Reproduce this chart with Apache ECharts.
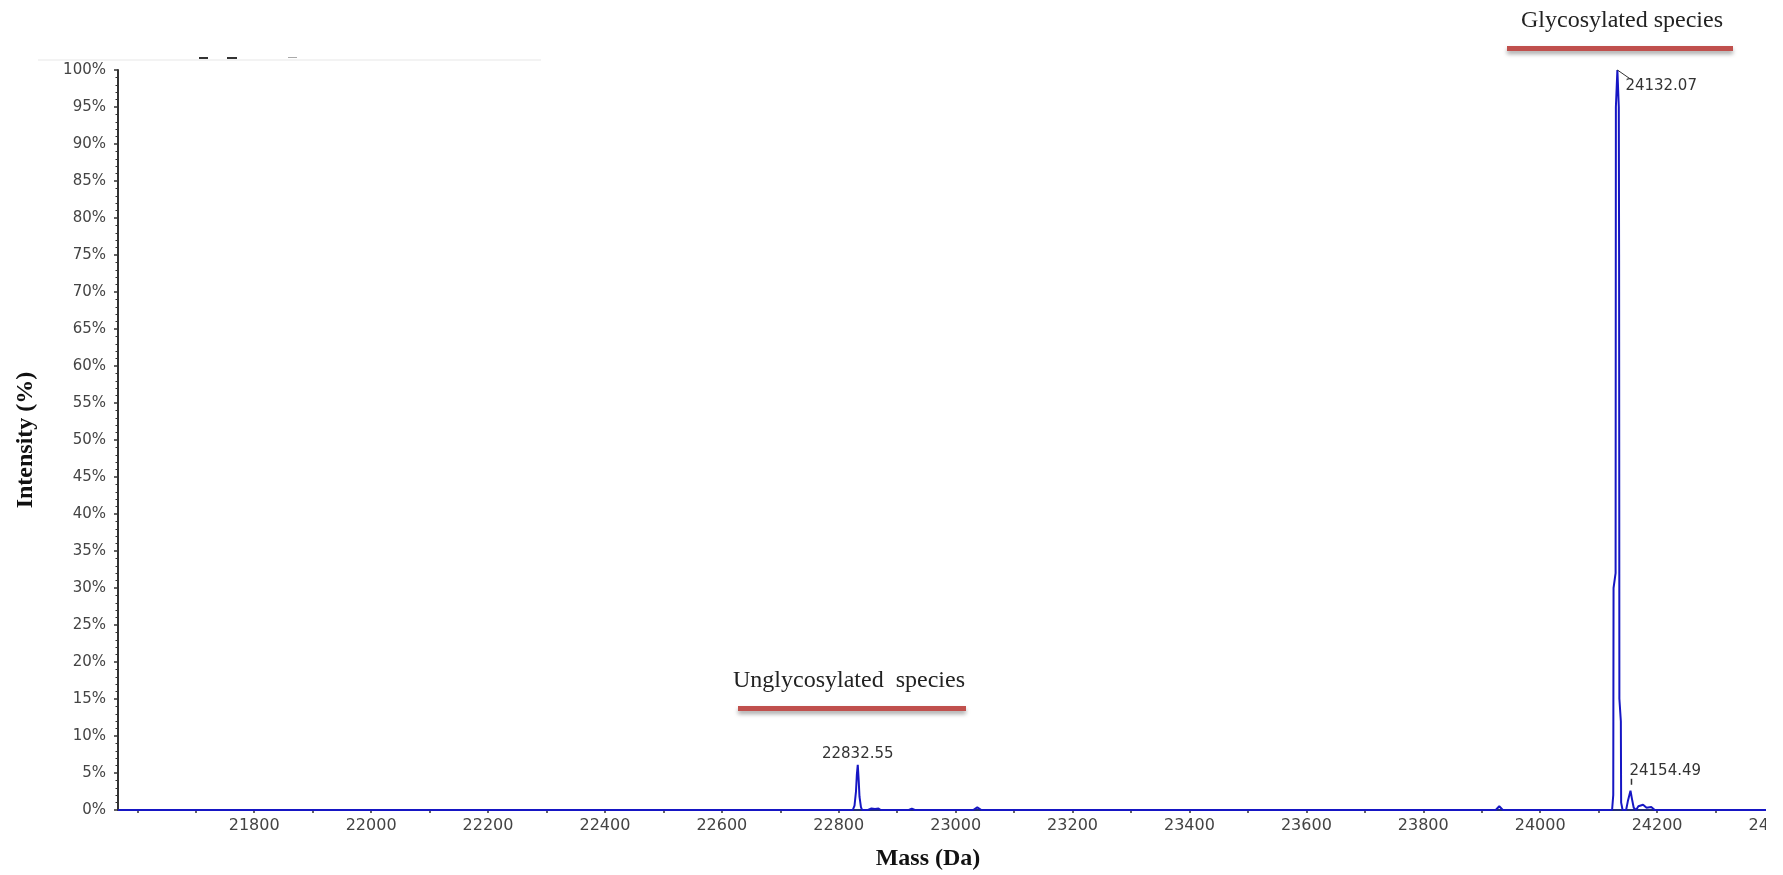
<!DOCTYPE html>
<html>
<head>
<meta charset="utf-8">
<script src="https://cdn.jsdelivr.net/npm/echarts@6/dist/echarts.min.js"></script>
<style>
html,body{margin:0;padding:0;background:#fff;}
#c{width:1783px;height:875px;}
</style>
</head>
<body>
<div id="c"></div>
<script>
// ---- data ----
const massDa = [
  21567, 22788, 22790, 22792, 22824, 22827, 22829.5, 22831, 22832.55, 22834, 22835.5, 22838, 22840,
  22850, 22856, 22862, 22868, 22872, 22920, 22925, 22930, 23030, 23037, 23044,
  23924, 23930, 23936,
  24123, 24125, 24125.5, 24129, 24129.5, 24132.07, 24134.5, 24135, 24135.5, 24138, 24138.5, 24141,
  24147, 24150, 24154.49, 24157, 24160, 24164, 24168, 24176, 24182, 24190, 24196, 24400
];
const intensityPct = [
  0, 0, 0.15, 0, 0, 0.6, 2.5, 4.8, 6.1, 4.2, 1.8, 0.4, 0,
  0, 0.2, 0.15, 0.2, 0, 0, 0.2, 0, 0, 0.35, 0,
  0, 0.5, 0,
  0, 2, 30, 32, 95, 100, 95, 75, 15, 12, 1, 0,
  0, 1.2, 2.6, 1.5, 0.3, 0, 0.5, 0.7, 0.3, 0.4, 0, 0
];
const peakMasses = [22832.55, 24132.07, 24154.49];
const peakIntensities = [6.1, 100, 2.6];
const xTickValues = [21600, 21700, 21800, 21900, 22000, 22100, 22200, 22300, 22400, 22500, 22600, 22700,
  22800, 22900, 23000, 23100, 23200, 23300, 23400, 23500, 23600, 23700, 23800, 23900, 24000, 24100,
  24200, 24300, 24400];
const xLabelValues = [21800, 22000, 22200, 22400, 22600, 22800, 23000, 23200, 23400, 23600, 23800,
  24000, 24200, 24400];
const annotationTexts = ['Unglycosylated  species', 'Glycosylated species'];
const xAxisTitle = 'Mass (Da)';
const yAxisTitle = 'Intensity (%)';

// ---- chart ----
const chart = echarts.init(document.getElementById('c'), null, {renderer: 'canvas'});
const numFont = 'DejaVu Sans';
const serif = '"Liberation Serif", "Times New Roman", serif';

const option = {
  animation: false,
  backgroundColor: '#fff',
  grid: {left: 118, right: 9, top: 70, bottom: 65, containLabel: false, outerBoundsMode: 'none'},
  xAxis: {
    type: 'value',
    min: 21567,
    max: 24400,
    name: xAxisTitle,
    nameLocation: 'middle',
    nameGap: 37,
    nameTextStyle: {fontFamily: serif, fontWeight: 'bold', fontSize: 24, color: '#111', padding: [0, 36, 0, 0]},
    axisLine: {show: true, lineStyle: {color: '#1f2a7a', width: 2}},
    axisTick: {show: true, customValues: xTickValues, length: 3, lineStyle: {color: '#333', width: 1.5}},
    axisLabel: {customValues: xLabelValues, margin: 8, fontFamily: numFont, fontSize: 16, color: '#444',
      formatter: v => String(v), showMaxLabel: true},
    splitLine: {show: false},
    minorTick: {show: false}
  },
  yAxis: {
    type: 'value',
    min: 0,
    max: 100,
    interval: 5,
    name: yAxisTitle,
    nameLocation: 'middle',
    nameGap: 80,
    nameRotate: 90,
    nameTextStyle: {fontFamily: serif, fontWeight: 'bold', fontSize: 24, color: '#111'},
    axisLine: {show: true, lineStyle: {color: '#333', width: 2}},
    axisTick: {show: true, length: 4, lineStyle: {color: '#333', width: 1.5}},
    minorTick: {show: true, splitNumber: 5, length: 2.5, lineStyle: {color: '#333', width: 1}},
    axisLabel: {margin: 12, fontFamily: numFont, fontSize: 15, color: '#444', formatter: '{value}%'},
    splitLine: {show: false}
  },
  series: [{
    type: 'line',
    data: massDa.map((m, i) => [m, intensityPct[i]]),
    showSymbol: false,
    symbol: 'none',
    lineStyle: {color: '#1616c4', width: 2},
    z: 5,
    clip: false
  }]
};
chart.setOption(option);

// ---- annotations placed through the chart's own scales ----
function px(x, y) { return chart.convertToPixel({gridIndex: 0}, [x, y]); }
const g = [];
const labelStyle = {fontFamily: numFont, fontSize: 15, fill: '#333'};
peakMasses.forEach((m, i) => {
  const p = px(m, peakIntensities[i]);
  const txt = m.toFixed(2);
  if (i === 0) {
    g.push({type: 'text', x: p[0], y: p[1] - 11, z: 20,
      style: Object.assign({text: txt, align: 'center', verticalAlign: 'middle'}, labelStyle)});
  } else if (i === 1) {
    g.push({type: 'line', z: 20, shape: {x1: p[0], y1: p[1], x2: p[0] + 13, y2: p[1] + 9},
      style: {stroke: '#333', lineWidth: 1}});
    g.push({type: 'text', x: p[0] + 8, y: p[1] + 16, z: 20,
      style: Object.assign({text: txt, align: 'left', verticalAlign: 'middle'}, labelStyle)});
  } else {
    g.push({type: 'line', z: 20, shape: {x1: p[0] + 1, y1: p[1] - 12, x2: p[0] + 1, y2: p[1] - 6},
      style: {stroke: '#333', lineWidth: 1.5}});
    g.push({type: 'text', x: p[0] - 1, y: p[1] - 20, z: 20,
      style: Object.assign({text: txt, align: 'left', verticalAlign: 'middle'}, labelStyle)});
  }
});

// species annotations (text + red underline)
const barStyle = {fill: '#c0504d', shadowColor: 'rgba(0,0,0,0.35)', shadowBlur: 4, shadowOffsetY: 3};
g.push({type: 'text', x: 849, y: 681, z: 20,
  style: {text: annotationTexts[0], align: 'center', verticalAlign: 'middle', fontFamily: serif, fontSize: 24, fill: '#222'}});
g.push({type: 'rect', z: 20, shape: {x: 738, y: 706, width: 228, height: 5}, style: barStyle});
g.push({type: 'text', x: 1622, y: 21, z: 20,
  style: {text: annotationTexts[1], align: 'center', verticalAlign: 'middle', fontFamily: serif, fontSize: 24, fill: '#222'}});
g.push({type: 'rect', z: 20, shape: {x: 1507, y: 46, width: 226, height: 5}, style: barStyle});

// residue of a cropped header at top-left
g.push({type: 'rect', z: 1, shape: {x: 38, y: 59, width: 503, height: 2}, style: {fill: '#f3f3f3'}});
g.push({type: 'rect', z: 2, shape: {x: 199, y: 57, width: 9, height: 2}, style: {fill: '#333'}});
g.push({type: 'rect', z: 2, shape: {x: 227, y: 57, width: 10, height: 2}, style: {fill: '#333'}});
g.push({type: 'rect', z: 2, shape: {x: 288, y: 57, width: 9, height: 1}, style: {fill: '#aaa'}});

// image crop on the right edge
g.push({type: 'rect', z: 100, shape: {x: 1766, y: 0, width: 20, height: 875}, style: {fill: '#fff'}});

chart.setOption({graphic: g});
</script>
</body>
</html>
